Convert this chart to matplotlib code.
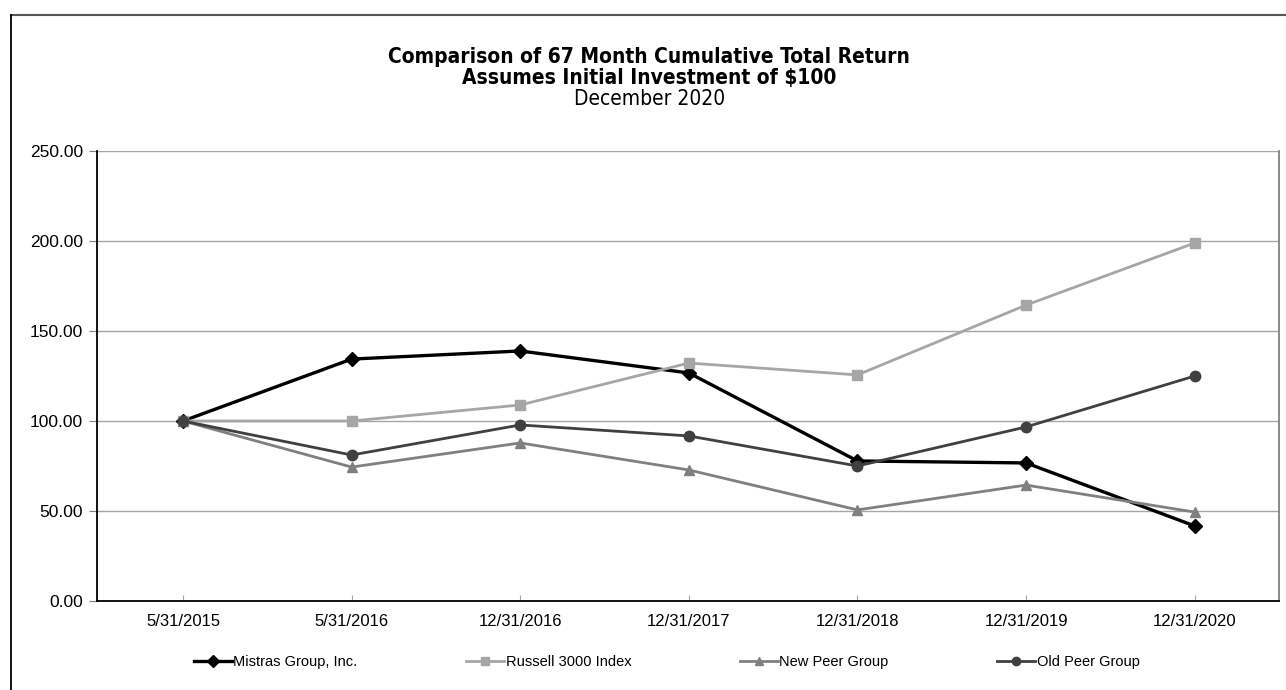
import numpy as np
from matplotlib import pyplot as plt
from matplotlib.lines import Line2D

# data
dates = ['5/31/2015', '5/31/2016', '12/31/2016', '12/31/2017',
         '12/31/2018', '12/31/2019', '12/31/2020']
mistras = [100.0, 134.4, 138.9, 126.7, 77.8, 76.7, 41.7]
russell = [100.0, 100.0, 108.9, 132.2, 125.6, 164.4, 198.9]
new_peer = [100.0, 74.4, 87.8, 72.8, 50.6, 64.4, 49.4]
old_peer = [100.0, 81.1, 97.8, 91.7, 75.0, 96.7, 125.0]

series = [
    ('Mistras Group, Inc.', mistras, '#000000', 'D', 2.4),
    ('Russell 3000 Index', russell, '#a6a6a6', 's', 2.0),
    ('New Peer Group', new_peer, '#808080', '^', 2.0),
    ('Old Peer Group', old_peer, '#404040', 'o', 2.0),
]

plt.rcParams['font.family'] = ['Liberation Sans', 'DejaVu Sans']

fig = plt.figure(figsize=(12.86, 6.9), dpi=100)
ax = fig.add_axes([97 / 1286, 89 / 690, 1182 / 1286, 450 / 690])

x = np.arange(len(dates))
for name, vals, col, mk, lw in series:
    ax.plot(x, vals, color=col, lw=lw, marker=mk, markersize=7.5,
            markerfacecolor=col, markeredgecolor=col, label=name,
            solid_joinstyle='round')

ax.set_xlim(-0.51, 6.5)
ax.set_ylim(0, 250)
ax.set_yticks(np.arange(0, 251, 50))
ax.yaxis.set_major_formatter(plt.FuncFormatter(lambda v, p: '%.2f' % v))
ax.set_xticks(x)
ax.set_xticklabels(dates)
ax.grid(axis='y', color='#a6a6a6', lw=1)
ax.set_axisbelow(True)
ax.tick_params(axis='y', direction='out', length=6, width=0.8, color='#808080',
               labelsize=12.5, pad=4)
ax.tick_params(axis='x', direction='in', length=4, width=0.8, color='#a6a6a6',
               labelsize=12, pad=9)
ax.spines['top'].set_visible(False)
ax.spines['left'].set_color('#000000')
ax.spines['bottom'].set_color('#000000')
ax.spines['left'].set_linewidth(1.3)
ax.spines['bottom'].set_linewidth(1.3)
ax.spines['right'].set_color('#808080')
ax.spines['right'].set_linewidth(1.3)

ax.legend(loc='center', bbox_to_anchor=(0.482, (690 - 662 - 89) / 450), ncol=4,
          frameon=False, fontsize=10.5, handlelength=2.6, handletextpad=0.1,
          columnspacing=7.45, markerscale=0.8)

# titles
tfont = ['DejaVu Sans']
fig.text(0.505, 1 - 57 / 690, 'Comparison of 67 Month Cumulative Total Return',
         ha='center', va='center', fontsize=15, fontweight='bold',
         fontstretch='condensed', family=tfont)
fig.text(0.505, 1 - 78 / 690, 'Assumes Initial Investment of $100',
         ha='center', va='center', fontsize=15, fontweight='bold',
         fontstretch='condensed', family=tfont)
fig.text(0.505, 1 - 99 / 690, 'December 2020',
         ha='center', va='center', fontsize=15, fontstretch='condensed',
         family=tfont)

# outer frame (cropped at right and bottom)
fig.add_artist(Line2D([11 / 1286, 1], [1 - 15 / 690, 1 - 15 / 690],
                      color='#555555', lw=1.5, transform=fig.transFigure))
fig.add_artist(Line2D([11 / 1286, 11 / 1286], [0, 1 - 15 / 690],
                      color='#000000', lw=1.3, transform=fig.transFigure))

fig.savefig('out.png', dpi=100)
